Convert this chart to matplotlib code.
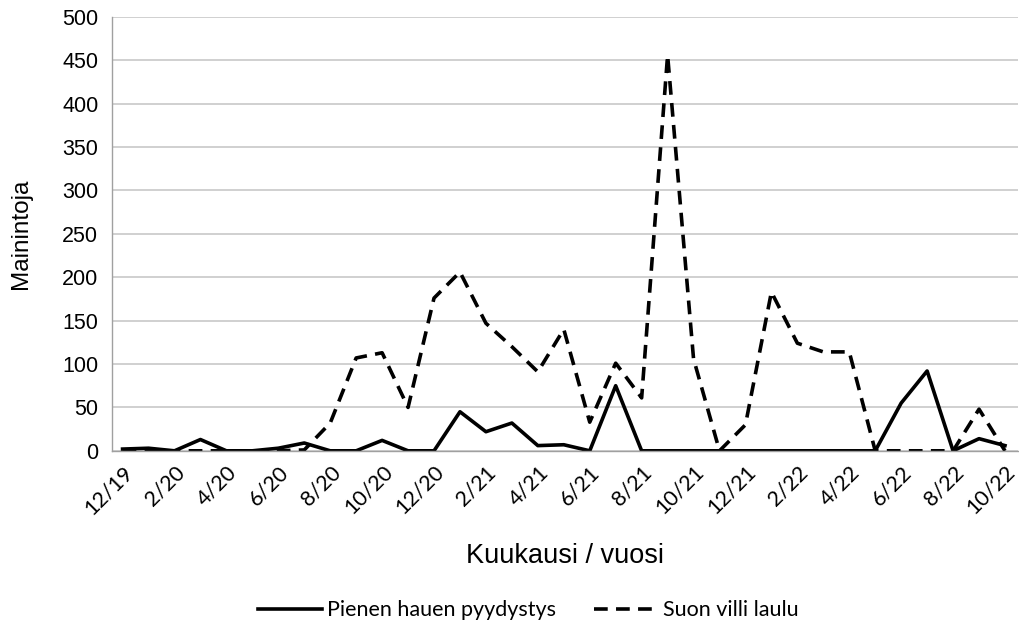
import matplotlib
matplotlib.use("Agg")
import matplotlib.pyplot as plt
import numpy as np

months = ["12/19", "1/20", "2/20", "3/20", "4/20", "5/20", "6/20", "7/20", "8/20", "9/20",
          "10/20", "11/20", "12/20", "1/21", "2/21", "3/21", "4/21", "5/21", "6/21", "7/21",
          "8/21", "9/21", "10/21", "11/21", "12/21", "1/22", "2/22", "3/22", "4/22", "5/22",
          "6/22", "7/22", "8/22", "9/22", "10/22"]
pienen = [2, 3, 0, 13, 0, 0, 3, 9, 0, 0,
          12, 0, 0, 45, 22, 32, 6, 7, 0, 75,
          0, 0, 0, 0, 0, 0, 0, 0, 0, 0,
          55, 92, 0, 14, 6]
suon = [0, 0, 0, 0, 0, 0, 0, 1, 32, 107,
        113, 50, 176, 206, 147, 120, 91, 140, 33, 101,
        61, 456, 106, 0, 30, 183, 124, 114, 114, 0,
        0, 0, 0, 48, 0]
series_names = ["Pienen hauen pyydystys", "Suon villi laulu"]

fig = plt.figure(figsize=(10.2, 6.27), dpi=100)
ax = fig.add_axes([0.110, 0.281, 0.888, 0.692])

x = np.arange(len(months))
ax.plot(x, pienen, color="black", lw=2.6, label=series_names[0])
ax.plot(x, suon, color="black", lw=2.6, ls=(0, (3.8, 2.3)), label=series_names[1])

ax.set_xlim(-0.4, len(months) - 0.5)
ax.set_ylim(0, 500)
ax.set_yticks(np.arange(0, 501, 50))
ax.yaxis.grid(True, color="#c8c8c8", lw=1.2)
ax.set_axisbelow(True)
for s in ["top", "right"]:
    ax.spines[s].set_visible(False)
for s in ["left", "bottom"]:
    ax.spines[s].set_color("#a0a0a0")
    ax.spines[s].set_linewidth(1.0)

ax.set_xticks(x[::2])
ax.set_xticklabels(months[::2], rotation=45, ha="right", rotation_mode="anchor",
                   fontsize=15.5, family="Lato")
ax.tick_params(axis="both", length=0)
ax.tick_params(axis="x", pad=8)
ax.tick_params(axis="y", pad=10)
for lab in ax.get_yticklabels():
    lab.set_fontsize(15.5)
    lab.set_family("Liberation Sans")

ax.set_ylabel("Mainintoja", fontsize=17.5, family="Liberation Sans", labelpad=22)
ax.set_xlabel("Kuukausi / vuosi", fontsize=19.5, family="Liberation Sans", labelpad=18)

leg = fig.legend(loc="center", bbox_to_anchor=(0.518, 0.027), ncol=2, frameon=False,
                 prop={"family": "Lato", "size": 15.5}, handlelength=3.0, columnspacing=1.8,
                 handletextpad=0.2)

fig.savefig("out.png", dpi=100)
